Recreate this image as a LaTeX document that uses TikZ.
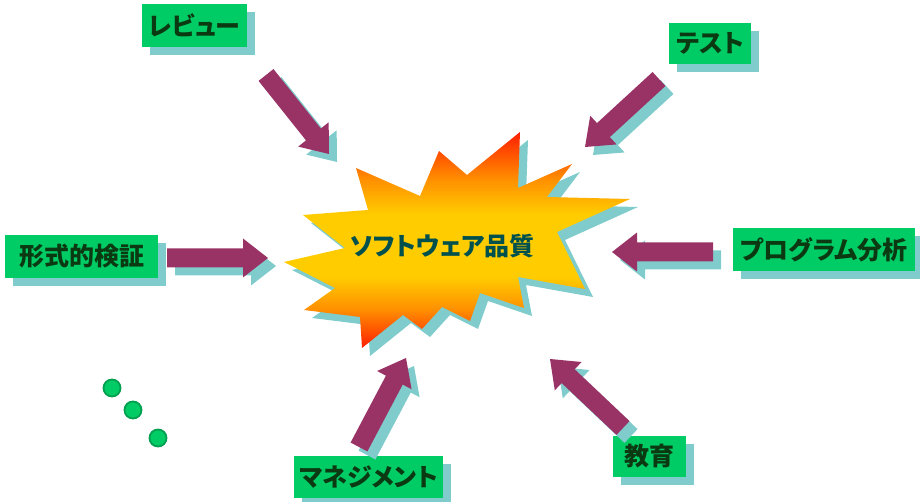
\documentclass[tikz,border=0pt]{standalone}
\usepackage{fontspec}
\newfontfamily\jpfont{Noto Sans CJK JP}[RawFeature=+palt]
\usetikzlibrary{calc,shadows}
\definecolor{boxgreen}{HTML}{00CC66}
\definecolor{shadowteal}{HTML}{80CCCC}
\definecolor{arrowpurple}{HTML}{993366}
\definecolor{labeltext}{HTML}{0B3A12}
\definecolor{bursttext}{HTML}{00504D}
\definecolor{dotedge}{HTML}{00A050}
\definecolor{bred}{HTML}{FF1E00}
\definecolor{borange}{HTML}{FF9000}
\definecolor{byellow}{HTML}{FFCC00}
\pgfdeclareverticalshading{burst}{100bp}{color(0bp)=(bred); color(25bp)=(bred); color(34bp)=(borange); color(41.5bp)=(byellow); color(56bp)=(byellow); color(64bp)=(borange); color(75bp)=(bred); color(100bp)=(bred)}
\tikzset{
  tealshadow/.style={general shadow={fill=shadowteal, shadow xshift=8pt, shadow yshift=-8pt}},
  labelbox/.style={fill=boxgreen, text=labeltext, inner sep=0pt, tealshadow,
    font=\jpfont\bfseries\fontsize{25}{25}\selectfont},
  arrowbody/.style={fill=arrowpurple, tealshadow},
  dotnode/.style={circle, fill=boxgreen, draw=dotedge, line width=1.8pt, minimum size=17pt, inner sep=0pt},
}
% #1 tail coordinate, #2 tip coordinate
\newcommand\blockarrow[2]{%
  \path ($(#2)!25pt!(#1)$) coordinate (#1-h);
  \fill[arrowbody] ($(#1)!9.5pt!90:(#2)$) -- ($(#1-h)!9.5pt!90:(#2)$) -- ($(#1-h)!19.5pt!90:(#2)$) -- (#2)
     -- ($(#1-h)!19.5pt!-90:(#2)$) -- ($(#1-h)!9.5pt!-90:(#2)$) -- ($(#1)!9.5pt!-90:(#2)$) -- cycle;
}
\begin{document}
\begin{tikzpicture}[x=1pt,y=-1pt]
\useasboundingbox (0,0) rectangle (920,502);
% starburst
\shade[shading=burst, tealshadow]
 (520,132) -- (518,188) -- (572,164) -- (547,197) -- (630,199) -- (557,232) -- (585,289)
 -- (518,277) -- (524,308) -- (480,293) -- (470,321) -- (442,307) -- (422,329) -- (403,315)
 -- (362,348) -- (360,317) -- (304,310) -- (335,288) -- (284,262) -- (345,248) -- (303,215)
 -- (368,210) -- (356,168) -- (420,196) -- (439,151) -- (467,175) -- cycle;
\node[text=bursttext, font=\jpfont\bfseries\fontsize{25}{25}\selectfont, inner sep=0pt] (quality) at (442.5,246.5) {ソフトウェア品質};

% labels
\node[labelbox, minimum width=105pt, minimum height=43pt] (review) at (194.5,25.5) {レビュー};
\node[labelbox, minimum width=82pt, minimum height=41pt] (test) at (710,43.5) {テスト};
\node[labelbox, minimum width=153pt, minimum height=43pt] (formal) at (81.5,256.5) {形式的検証};
\node[labelbox, minimum width=182pt, minimum height=43pt] (analysis) at (824,249.5) {プログラム分析};
\node[labelbox, minimum width=149pt, minimum height=42pt] (mgmt) at (368.5,477) {マネジメント};
\node[labelbox, minimum width=73pt, minimum height=41pt] (edu) at (649.5,456.5) {教育};

% arrow end points
\coordinate (t1) at (266,75);  \coordinate (p1) at (329,154);
\coordinate (t2) at (659,79);  \coordinate (p2) at (585,147);
\coordinate (t3) at (167,258); \coordinate (p3) at (268,258);
\coordinate (t4) at (713,252); \coordinate (p4) at (612,252);
\coordinate (t5) at (359,447); \coordinate (p5) at (406,358);
\coordinate (t6) at (623,428); \coordinate (p6) at (550,359);
\blockarrow{t1}{p1}
\blockarrow{t2}{p2}
\blockarrow{t3}{p3}
\blockarrow{t4}{p4}
\blockarrow{t5}{p5}
\blockarrow{t6}{p6}

% dots
\node[dotnode] (d1) at (112,388) {};
\node[dotnode] (d2) at (133,410) {};
\node[dotnode] (d3) at (158,438) {};
\end{tikzpicture}
\end{document}
